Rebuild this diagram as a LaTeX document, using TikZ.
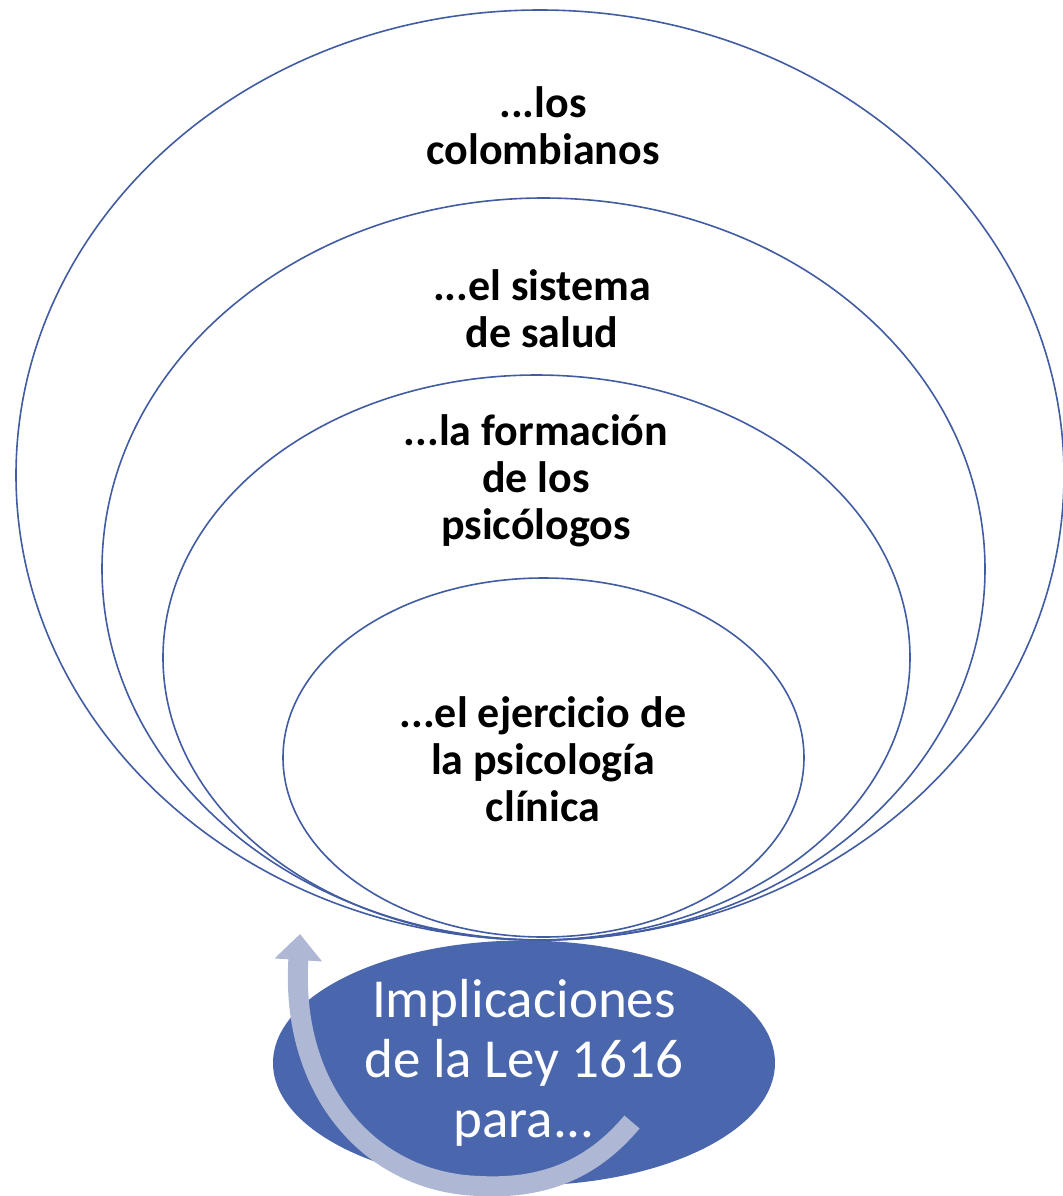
\documentclass[tikz,border=0pt]{standalone}
\usepackage{fontspec}
\setmainfont{Carlito}
\usetikzlibrary{shapes.geometric,arrows.meta}
\definecolor{anillo}{RGB}{66,92,162}
\definecolor{nucleo}{RGB}{74,103,174}
\definecolor{flecha}{RGB}{174,183,212}

\begin{document}
\begin{tikzpicture}[x=0.5pt, y=-0.5pt,
	anillo/.style={ellipse, draw=anillo, line width=0.8pt, inner sep=0pt},
	texto/.style={align=center, font=\bfseries\fontsize{22}{23.5}\selectfont}]
	\useasboundingbox (0,0) rectangle (1062,1196);

	\node[anillo, minimum width=524pt, minimum height=465pt] (colombianos) at (540,475) {};
	\node[anillo, minimum width=441.5pt, minimum height=371pt] (sistema) at (543.5,569) {};
	\node[anillo, minimum width=373.5pt, minimum height=282.5pt] (formacion) at (536.5,657.5) {};
	\node[anillo, minimum width=260.5pt, minimum height=179.5pt] (ejercicio) at (543.5,757.5) {};

	\node[texto] (t colombianos) at (543,126) {...los\\colombianos};
	\node[texto] (t sistema) at (542,309) {...el sistema\\de salud};
	\node[texto] (t formacion) at (536,481) {...la formación\\de los\\psicólogos};
	\node[texto] (t ejercicio) at (543,759) {...el ejercicio de\\la psicología\\clínica};

	\node[ellipse, fill=nucleo, inner sep=0pt, minimum width=251pt, minimum height=122.5pt,
		text=white, align=center, font=\fontsize{27.5}{30}\selectfont] (ley) at (524,1063)
		{Implicaciones\\de la Ley 1616\\para...};

	\coordinate (inicio) at (632,1122);
	\coordinate (punta) at (300,934);
	\draw[flecha, line width=10pt, -{Triangle[width=23pt, length=13pt]}] (inicio)
		.. controls (590,1172) and (540,1189) .. (480,1186)
		.. controls (370,1183) and (290,1090) .. (punta);
\end{tikzpicture}
\end{document}
